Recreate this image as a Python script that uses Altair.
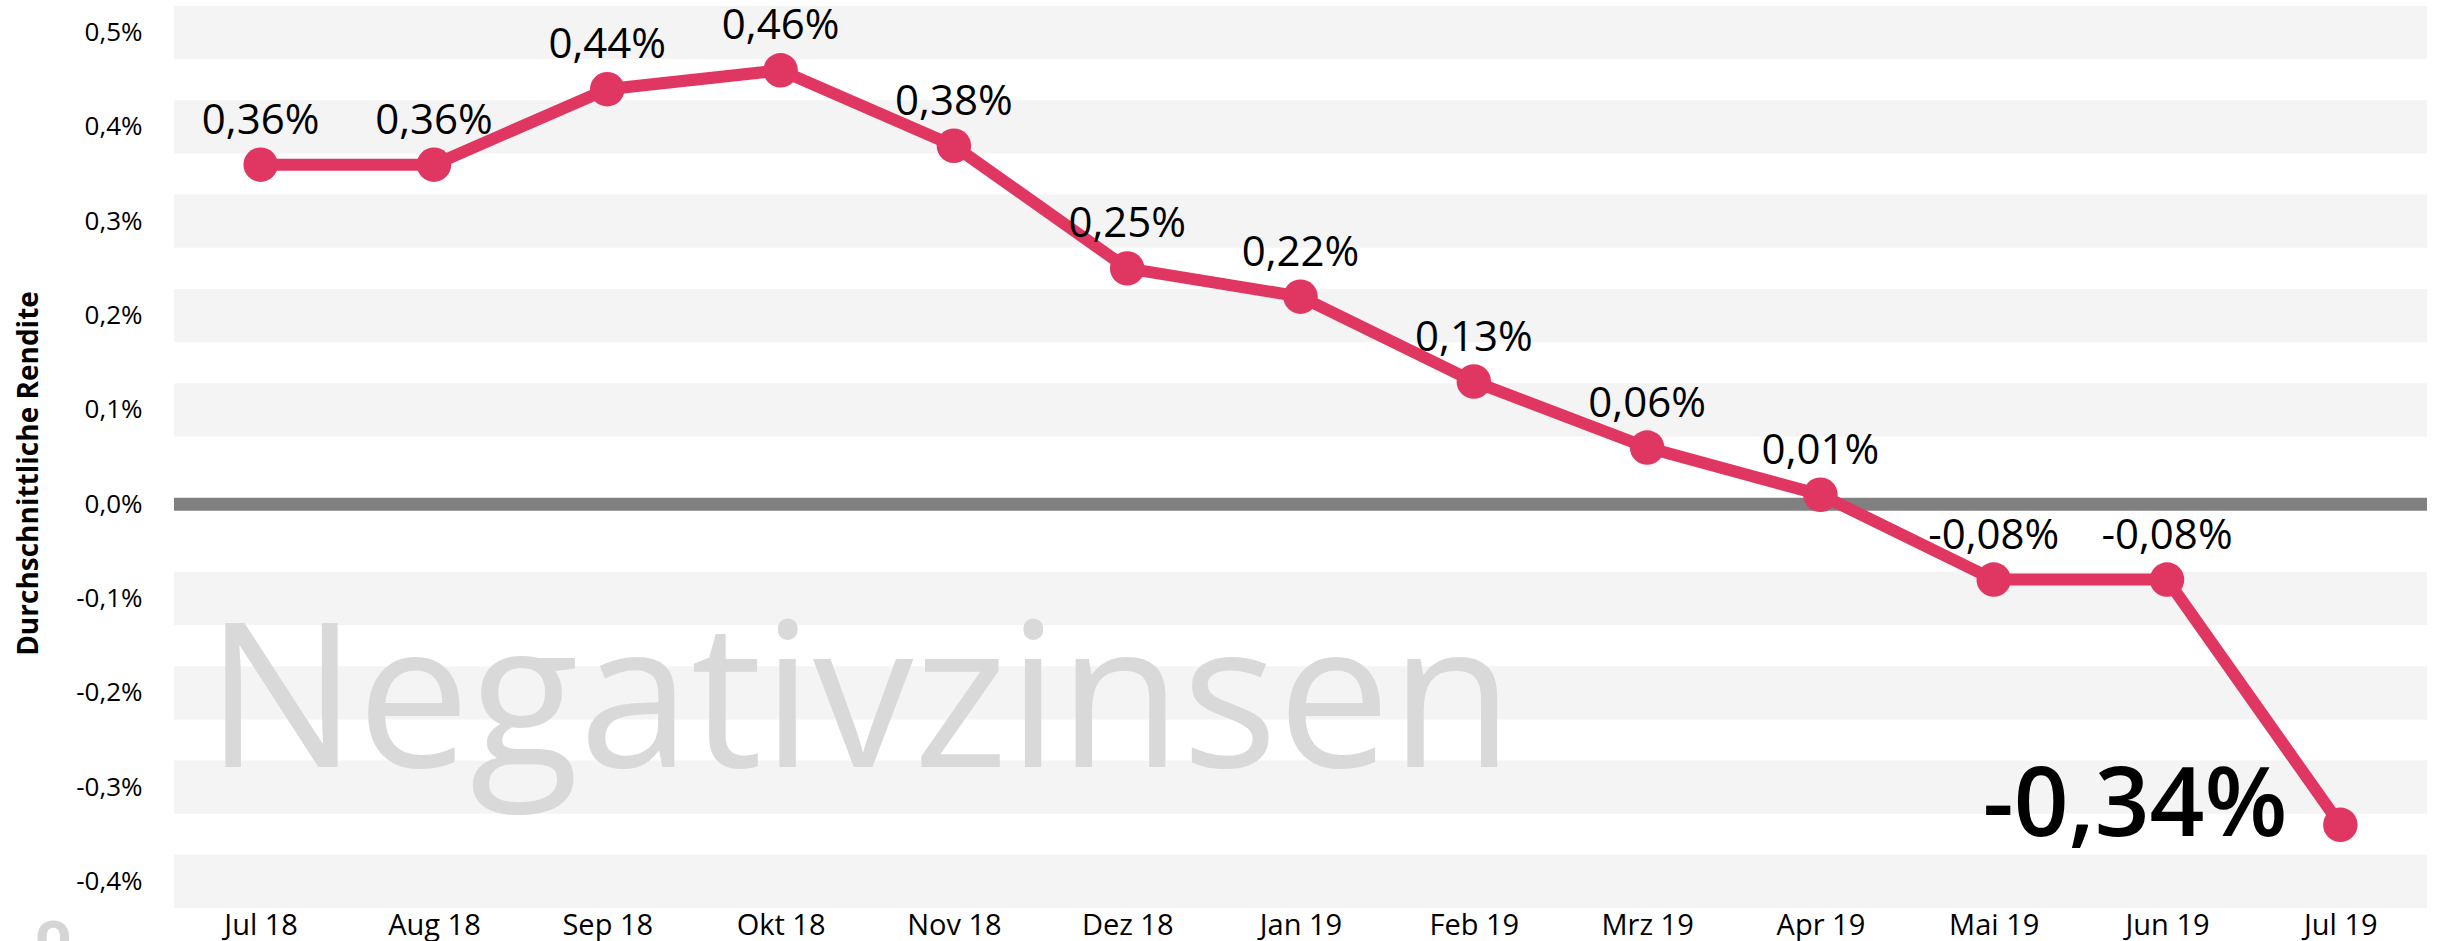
import altair as alt
import pandas as pd

# ---- data ----
months = ["Jul 18", "Aug 18", "Sep 18", "Okt 18", "Nov 18", "Dez 18", "Jan 19",
          "Feb 19", "Mrz 19", "Apr 19", "Mai 19", "Jun 19", "Jul 19"]
rendite = [0.36, 0.36, 0.44, 0.46, 0.38, 0.25, 0.22, 0.13, 0.06, 0.01, -0.08, -0.08, -0.34]
y_ticks = [-0.4, -0.3, -0.2, -0.1, 0.0, 0.1, 0.2, 0.3, 0.4, 0.5]
band_centers = [-0.4, -0.3, -0.2, -0.1, 0.1, 0.2, 0.3, 0.4, 0.5]
watermark_text = ["Negativzinsen"]
y_title = "Durchschnittliche Rendite"


def fmt(v):
    s = f"{abs(v):.2f}".replace(".", ",") + "%"
    return ("-" + s) if v < 0 else s


labels = [fmt(v) for v in rendite]

df = pd.DataFrame({"Monat": months, "Rendite": rendite, "Label": labels})
df_small = df.iloc[:-1]
df_big = df.iloc[-1:]
bands = pd.DataFrame({"Monat": [months[0]] * len(band_centers),
                      "lo": [c - 0.0282 for c in band_centers],
                      "hi": [c + 0.0282 for c in band_centers]})

W, H = 2253, 902
FONT = "Open Sans"
RED = "#e03762"

x_scale = alt.Scale(type="point", padding=0.5, domain=months)
x_axis = alt.Axis(title=None, labelAngle=0, labelAlign="center", domain=False, ticks=False,
                  tickSize=0, grid=False, labelFont=FONT, labelFontSize=29,
                  labelColor="#000000", labelBaseline="alphabetic", labelPadding=26)
y_scale = alt.Scale(domain=[-0.4282, 0.5282], nice=False, zero=False)
y_axis = alt.Axis(values=y_ticks, domain=False, ticks=False, tickSize=0, grid=False,
                  labelFont=FONT, labelFontSize=26, labelColor="#000000",
                  labelPadding=32, labelBaseline="middle", labelAlign="right",
                  labelExpr="(datum.value < 0 ? '-' : '') + replace(format(abs(datum.value), '.1f'), '.', ',') + '%'",
                  title=y_title, titleFont=FONT, titleFontSize=28, titleFontWeight="bold",
                  titleColor="#000000", titleAngle=270, titleX=-137, titleY=467,
                  titleAlign="center", titleBaseline="alphabetic")

band_layer = alt.Chart(bands).mark_rect(color="#f4f4f4").encode(
    y=alt.Y("lo:Q", scale=y_scale, axis=y_axis),
    y2="hi:Q",
    x=alt.value(0), x2=alt.value(W))

zero_layer = alt.Chart(pd.DataFrame({"z": [0.0]})).mark_rule(
    color="#808080", strokeWidth=13).encode(
    y=alt.Y("z:Q", scale=y_scale, axis=y_axis),
    x=alt.value(0), x2=alt.value(W))

wm_df = pd.DataFrame({"t": watermark_text, "Monat": [months[0]], "Rendite": [-0.279]})
watermark = alt.Chart(wm_df).mark_text(
    font=FONT, fontSize=201, color="#d9d9d9", align="left", baseline="alphabetic", dx=-55
).encode(x=alt.X("Monat:N", sort=months, scale=x_scale, axis=x_axis),
         y=alt.Y("Rendite:Q", scale=y_scale, axis=y_axis), text="t:N")

logo_df = pd.DataFrame({"t": ["o"], "Monat": [months[0]], "Rendite": [-0.4775]})
logo = alt.Chart(logo_df).mark_text(
    font=FONT, fontSize=60, fontWeight="bold", color="#d5d5d5", align="left",
    baseline="alphabetic", dx=-226
).encode(x=alt.X("Monat:N", sort=months, scale=x_scale, axis=x_axis),
         y=alt.Y("Rendite:Q", scale=y_scale, axis=y_axis), text="t:N")

base = alt.Chart(df).encode(
    x=alt.X("Monat:N", sort=months, scale=x_scale, axis=x_axis),
    y=alt.Y("Rendite:Q", scale=y_scale, axis=y_axis))
line = base.mark_line(color=RED, strokeWidth=12)
points = base.mark_point(filled=True, color=RED, size=1190, opacity=1, shape="circle")

small_labels = alt.Chart(df_small).mark_text(
    font=FONT, fontSize=42, color="#000000", baseline="alphabetic", align="center", dy=-31
).encode(x=alt.X("Monat:N", sort=months, scale=x_scale, axis=x_axis),
         y=alt.Y("Rendite:Q", scale=y_scale, axis=y_axis), text="Label:N")

big_label = alt.Chart(df_big).mark_text(
    font=FONT, fontSize=96, fontWeight=600, color="#000000", baseline="alphabetic",
    align="right", dx=-53, dy=11
).encode(x=alt.X("Monat:N", sort=months, scale=x_scale, axis=x_axis),
         y=alt.Y("Rendite:Q", scale=y_scale, axis=y_axis), text="Label:N")

chart = alt.layer(band_layer, zero_layer, watermark, logo, line, points, small_labels, big_label).properties(
    width=W, height=H,
    autosize=alt.AutoSizeParams(type="none"),
    padding={"left": 174, "top": 6, "right": 16, "bottom": 33},
    background="#ffffff",
).configure_view(stroke=None)

chart.save("out.html", embed_options={"renderer": "svg", "actions": False})
